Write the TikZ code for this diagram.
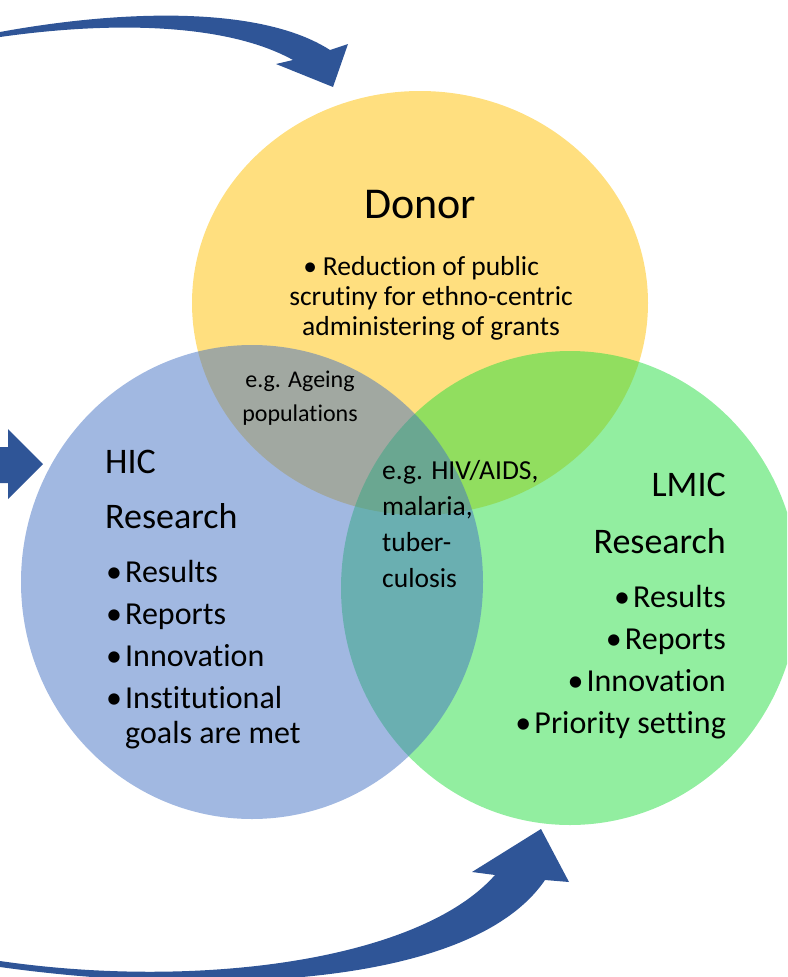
\documentclass[tikz,border=0pt]{standalone}
\usepackage{fontspec}
\setmainfont{Carlito}[Ligatures=NoCommon]
\usetikzlibrary{positioning}
\definecolor{donorcol}{RGB}{255,192,0}
\definecolor{hiccol}{RGB}{68,114,196}
\definecolor{lmiccol}{RGB}{37,221,65}
\definecolor{arrowcol}{RGB}{47,85,151}
\newcommand{\bul}{\makebox[19pt][l]{•}}

\begin{document}
\begin{tikzpicture}[x=1pt,y=-1pt,
                set/.style={fill opacity=0.5},
                arr/.style={fill=arrowcol},
                lbl/.style={inner sep=0pt,text=black},
                head/.style={lbl,font=\fontsize{36}{55}\selectfont},
                item/.style={lbl,font=\fontsize{32}{35}\selectfont}]
                \useasboundingbox (0,0) rectangle (787,977);
                % the three sets
                \begin{scope}
                \clip (0,0) rectangle (787,977);
                \fill[set,donorcol] (420,303) ellipse [x radius=228pt,y radius=212pt];
                \fill[set,lmiccol] (570,588) ellipse [x radius=229pt,y radius=237pt];
                \fill[set,hiccol] (252,582) ellipse [x radius=231pt,y radius=237pt];
                \end{scope}
                % arrows
                \fill[arr] (0,32) .. controls (120,10) and (260,5) .. (330,50)
                    -- (348,44) -- (333,87) -- (276,64) -- (293,60)
                    .. controls (230,25) and (120,20) .. (0,37) -- cycle;
                \fill[arr] (0,447) -- (8,447) -- (8,429) -- (43,464) -- (8,499)
                    -- (8,483) -- (0,483) -- cycle;
                \fill[arr] (0,961) .. controls (200,990) and (420,960) .. (495,875)
                    -- (472,872) -- (541,829) -- (569,882) -- (545,880)
                    .. controls (470,990) and (200,995) .. (0,967) -- cycle;
                % donor (base of a text block = its last line)
                \node[lbl,anchor=base,font=\fontsize{44}{50}\selectfont] (donor) at (420,218) {Donor};
                \node[lbl,anchor=base,align=center,font=\fontsize{27.5}{30}\selectfont] (donortxt) at (431,335)
                    {\llap{•\hspace{6pt}}Reduction of public\\scrutiny for ethno-centric\\administering of grants};
                % HIC
                \node[head,anchor=base west] (hic) at (105,473) {HIC};
                \node[head,anchor=base west] (hicres) at (105,528) {Research};
                \node[item,anchor=base west,align=left] (hictxt) at (106,743)
                    {\bul Results\\[7pt]\bul Reports\\[7pt]\bul Innovation\\[7pt]\bul Institutional\\\hspace*{19pt}goals are met};
                % LMIC
                \node[head,anchor=base east] (lmic) at (726,496) {LMIC};
                \node[head,anchor=base east] (lmicres) at (726,553) {Research};
                \node[item,anchor=base east,align=right] (lmictxt) at (726,733)
                    {\bul Results\\[7pt]\bul Reports\\[7pt]\bul Innovation\\[7pt]\bul Priority setting};
                % overlaps
                \node[lbl,anchor=base,align=center,font=\fontsize{24}{34}\selectfont] (ageing) at (300,421)
                    {e.g. Ageing\\populations};
                \node[lbl,anchor=base west,align=left,font=\fontsize{27.5}{36}\selectfont] (hiv) at (382,587)
                    {e.g. HIV/AIDS,\\malaria,\\tuber-\\culosis};
\end{tikzpicture}
\end{document}
